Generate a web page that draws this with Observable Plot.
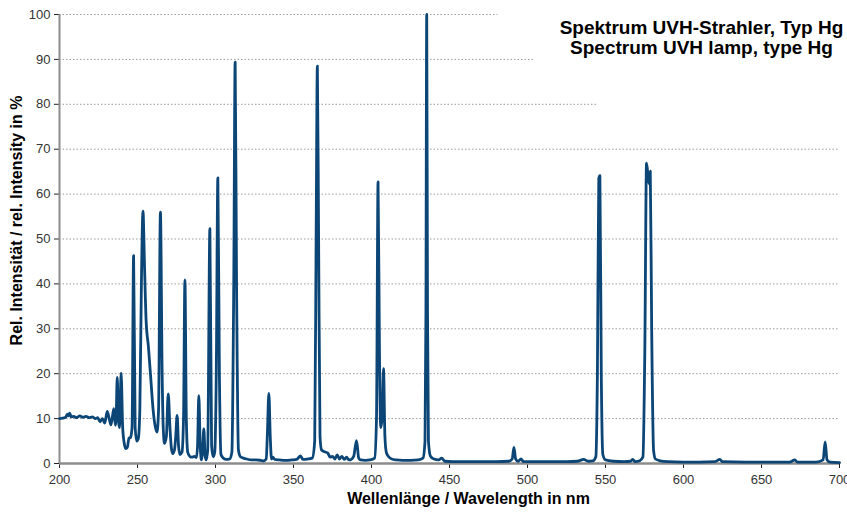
<!DOCTYPE html>
<html><head><meta charset="utf-8">
<script src="https://cdn.jsdelivr.net/npm/d3@7"></script>
<script src="https://cdn.jsdelivr.net/npm/@observablehq/plot@0.6"></script>
<style>body{margin:0;background:#fff;} #chart svg{display:block;}</style>
</head><body><div id="chart"></div>
<script>
const wavelength = [
200,202,204,205,206,206.5,207.5,209,211,213,215,217,219,221,223,224.5,226,227.5,229,230.6,232,233,234.8,235.8,236.3,237,237.8,238.5,239.5,240.5,241.5,242.5,243.5,244.5,245.5,246.5,247.5,248.5,249.5,250.5,251.5,252.5,253.5,254.5,255.5,257,258.5,260,261.5,262.5,263.5,264.7,265.8,266.5,267.3,268.5,269.7,270.8,271.7,272.6,273.7,274.5,275.4,276.3,277.2,278.5,279.5,280.4,281.3,282.2,283.5,285,286.5,287.8,288.5,289.3,290.2,291,291.7,292.5,293.3,294,295,296.4,297.5,298.5,299.5,300.5,301.5,302.5,303.5,305,307,309,310.5,311.7,312.6,313.5,314.7,316,318,320,323,326,329,331,332.5,333.2,334.2,335.1,335.9,336.8,338,341,345,349,352,354.5,356,359,362,363.6,364.5,365.3,366.1,367,368,370,372,373.5,375,376.5,378,379.5,381,382.5,384,385.5,387,388.6,390.4,391.8,393,396,399,402,403.2,404.2,405.1,405.9,406.8,407.7,408.6,409.5,411,413,416,420,425,430,433,434.3,434.9,435.4,435.9,436.5,437.8,440,443,445,447,452,460,470,480,488,490.2,491.3,492.4,494,495.8,497.5,505,515,525,532,536,539,542,543.8,544.8,545.7,546.4,547.3,548.3,550,555,562,566,567.5,569,572,574,575.2,576.3,577.3,578,578.7,579.6,580.8,582,585,590,600,610,620,623.3,625,640,655,668,671.4,673,685,689.5,690.8,692,694,700
];
const intensity = [
10.0,10.1,10.3,11.0,10.6,11.2,10.4,10.5,10.2,10.6,10.3,10.5,10.2,10.4,10.0,10.2,9.3,10.0,9.0,11.6,9.8,8.6,12.2,8.5,10,19.2,9.5,8,20.1,8,4.5,3.3,3.6,5.6,5.8,8,46.3,8,5.0,5.5,12,40,56.2,44,32,26,19,12,8,7,12,56,20,8,4.5,6,15.5,8,3.5,2.2,3,6,10.7,4,2.0,2.5,10,40.9,10,2.5,1.6,1.4,1.6,1.3,4,15.1,4,0.8,2.5,7.7,2,0.8,3,52.3,4,1.5,2.5,20,63.6,20,2,1.2,0.9,1,2.5,40,89.4,40,3,1.5,1.2,1.0,0.8,0.8,0.7,0.6,1.0,6,15.6,6,1.0,1.4,0.9,0.8,0.7,0.8,0.9,1.7,0.9,1.0,1.2,5,50,88.5,50,6,3,2.6,2.3,1.4,1.6,1.0,1.9,1.0,1.6,0.9,1.4,0.8,0.9,1.6,5.1,1.2,0.8,0.7,0.8,1.2,10,62.7,25,8,10,21.1,6,2.5,1.5,1.0,0.8,0.7,0.7,0.8,1.2,5,34,100,34,5,1.6,1.0,0.8,1.2,0.5,0.4,0.4,0.4,0.4,0.5,1.0,3.6,1.0,0.5,1.0,0.4,0.4,0.4,0.4,0.5,0.9,0.5,0.6,1.5,20,63.5,64.1,20,2,0.8,0.5,0.4,0.5,0.9,0.4,0.6,1.5,25,66.9,64,62.3,65.1,30,3,1.0,0.6,0.4,0.3,0.3,0.4,0.9,0.4,0.3,0.3,0.3,0.8,0.3,0.3,0.8,4.8,0.8,0.3,0.2
];
const xTicks = [200,250,300,350,400,450,500,550,600,650,700];
const yTicks = [0,10,20,30,40,50,60,70,80,90,100];
const titleLines = ["Spektrum UVH-Strahler, Typ Hg", "Spectrum UVH lamp, type Hg"];
const xLabel = "Wellenlänge / Wavelength in nm";
const yLabel = "Rel. Intensität / rel. Intensity in %";

const data = wavelength.map((w, i) => ({w, v: intensity[i]}));
const gridEnd = v => v === 100 ? 481 : v === 90 ? 505 : v === 80 ? 545 : 700;

const chart = Plot.plot({
  width: 847, height: 513,
  marginLeft: 59, marginRight: 8, marginTop: 14, marginBottom: 50,
  style: {fontFamily: "Arial, 'Liberation Sans', sans-serif", fontSize: "13px", color: "#333", background: "#fff"},
  x: {domain: [200, 700]},
  y: {domain: [0, 100]},
  marks: [
    Plot.ruleY(yTicks.filter(t => t > 0), {x1: 200, x2: gridEnd, stroke: "#9a9a9a", strokeWidth: 1, strokeDasharray: "1.5,2"}),
    Plot.axisX({ticks: xTicks, tickSize: 5, tickPadding: 6, label: null, stroke: "#222", fill: "#333"}),
    Plot.axisY({ticks: yTicks, tickSize: 5, tickPadding: 4, label: null, stroke: "#222", fill: "#333"}),
    Plot.ruleX([200], {stroke: "#8c8c8c", strokeWidth: 2}),
    Plot.ruleY([0], {stroke: "#8c8c8c", strokeWidth: 2.5}),
    Plot.line(data, {x: "w", y: "v", stroke: "#0b4677", strokeWidth: 2.8, curve: "monotone-x"}),
    Plot.text([titleLines.join("\n")], {frameAnchor: "top-right", textAnchor: "middle", lineAnchor: "top", dx: -138, dy: 4.2, fontSize: 19, fontWeight: "bold", fill: "#000", lineHeight: 1.1}),
    Plot.text([xLabel], {frameAnchor: "bottom", textAnchor: "middle", lineAnchor: "middle", dx: 19, dy: 35, fontSize: 16, fontWeight: "bold", fill: "#000"}),
    Plot.text([yLabel], {frameAnchor: "left", textAnchor: "middle", lineAnchor: "middle", rotate: -90, dx: -43, dy: -18.5, fontSize: 16, fontWeight: "bold", fill: "#000"})
  ]
});
document.getElementById("chart").appendChild(chart);
</script>
</body></html>
